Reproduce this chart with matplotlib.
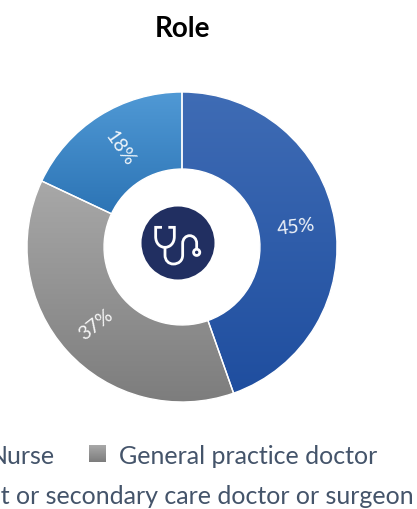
import numpy as np
import matplotlib
matplotlib.use("Agg")
import matplotlib.pyplot as plt
from matplotlib.colors import LinearSegmentedColormap
from matplotlib.patches import Circle, PathPatch
from matplotlib.path import Path

categories = ["Specialist or secondary care doctor or surgeon", "General practice doctor", "Nurse"]
values = [44.6, 37.4, 18.0]
labels = ["45%", "37%", "18%"]
tops = ["#3F6CB5", "#A8A8A8", "#5099D5"]
bottoms = ["#1F4E9F", "#7D7D7D", "#2C74B5"]
label_rot = [7, 38, -55]

W, H = 417, 509
plt.rcParams["font.family"] = ["Lato", "DejaVu Sans"]
fig = plt.figure(figsize=(W / 100, H / 100), dpi=100)
cx, cy, R = 182, 247, 155
ax = fig.add_axes([(cx - R) / W, 1 - (cy + R) / H, 2 * R / W, 2 * R / H])
wedges, _ = ax.pie(values, startangle=90, counterclock=False, radius=1,
                   wedgeprops=dict(width=0.497, edgecolor="none"))
ax.axis("off")

for w, top, bottom in zip(wedges, tops, bottoms):
    cmap = LinearSegmentedColormap.from_list("g", [bottom, top])
    bb = w.get_path().get_extents(w.get_patch_transform())
    im = ax.imshow(np.linspace(0, 1, 256).reshape(-1, 1), origin="lower", cmap=cmap,
                   extent=[bb.x0, bb.x1, bb.y0, bb.y1], aspect="auto", zorder=1)
    im.set_clip_path(w.get_path(), w.get_patch_transform() + ax.transData)
    w.set_facecolor("none")
    w.set_edgecolor("white")
    w.set_linewidth(1.0)
    w.set_zorder(2)
ax.set_xlim(-1, 1)
ax.set_ylim(-1, 1)
ax.set_aspect("equal")

cum = np.cumsum([0] + values)
for i, (lab, rot) in enumerate(zip(labels, label_rot)):
    th = np.deg2rad((cum[i] + values[i] / 2) * 3.6)
    ax.text(0.75 * np.sin(th), 0.75 * np.cos(th), lab, color="white", fontsize=14,
            ha="center", va="center", rotation=rot, zorder=3, alpha=0.92)

# pixel-coordinate overlay for title, icon and legend
ov = fig.add_axes([0, 0, 1, 1], facecolor="none")
ov.axis("off")
ov.text(182.5, 29, "Role", fontsize=20, fontweight="bold", color="black", ha="center", va="center")

ov.add_patch(Circle((178, 243), 36.5, facecolor="#212F61", edgecolor="none", zorder=4))
def Z(x, y):
    return (120 + x / 3, 190 + y / 3)
verts = [Z(126, 112), Z(107, 112), Z(107, 140),
         Z(107, 160), Z(120, 172), Z(135, 172),
         Z(150, 172), Z(163, 160), Z(163, 140),
         Z(163, 112), Z(145, 112)]
codes = [Path.MOVETO, Path.LINETO, Path.LINETO,
         Path.CURVE4, Path.CURVE4, Path.CURVE4,
         Path.CURVE4, Path.CURVE4, Path.CURVE4,
         Path.LINETO, Path.LINETO]
ov.add_patch(PathPatch(Path(verts, codes), facecolor="none", edgecolor="white", lw=2.0, zorder=5))
tube = [Z(135, 172), Z(135, 195),
        Z(135, 212), Z(146, 222), Z(160, 222),
        Z(176, 222), Z(188, 212), Z(188, 195),
        Z(188, 160),
        Z(188, 146), Z(198, 137), Z(209, 137),
        Z(220, 137), Z(230, 146), Z(230, 160),
        Z(230, 178)]
tc = [Path.MOVETO, Path.LINETO,
      Path.CURVE4, Path.CURVE4, Path.CURVE4,
      Path.CURVE4, Path.CURVE4, Path.CURVE4,
      Path.LINETO,
      Path.CURVE4, Path.CURVE4, Path.CURVE4,
      Path.CURVE4, Path.CURVE4, Path.CURVE4,
      Path.LINETO]
ov.add_patch(PathPatch(Path(tube, tc), facecolor="none", edgecolor="white", lw=2.0, zorder=5))
ov.add_patch(Circle(Z(230, 187), 3.1, facecolor="none", edgecolor="white", lw=2.0, zorder=5))

leg_col = "#44546A"
fs = 18
cl = LinearSegmentedColormap.from_list("lg", [bottoms[1], tops[1]])
ov.imshow(np.linspace(1, 0, 32).reshape(-1, 1), cmap=cl, extent=[89.5, 106.5, 462, 445], aspect="auto", zorder=3)
ov.set_xlim(0, W)
ov.set_ylim(H, 0)
ov.text(54.5, 456, categories[2], fontsize=fs, color=leg_col, ha="right", va="center")
ov.text(119.5, 456, categories[1], fontsize=fs, color=leg_col, ha="left", va="center")
ov.text(414, 496, categories[0], fontsize=fs, color=leg_col, ha="right", va="center")

fig.savefig("out.png", dpi=100)
